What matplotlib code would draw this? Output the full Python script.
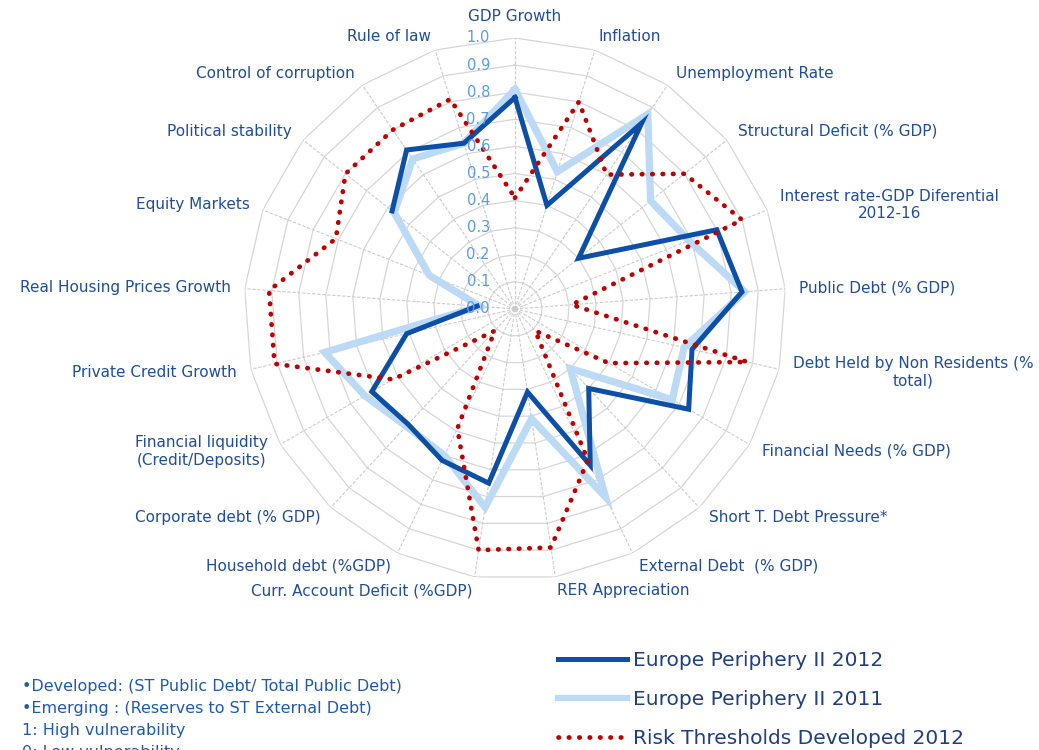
import numpy as np
import matplotlib
matplotlib.use('Agg')
import matplotlib.pyplot as plt
from matplotlib.lines import Line2D
from matplotlib.transforms import offset_copy

# vulnerability indicators, clockwise from the top
categories = ['GDP Growth', 'Inflation', 'Unemployment Rate',
              'Structural Deficit (% GDP)',
              'Interest rate-GDP Diferential\n2012-16',
              'Public Debt (% GDP)',
              'Debt Held by Non Residents (%\ntotal)',
              'Financial Needs (% GDP)', 'Short T. Debt Pressure*',
              'External Debt  (% GDP)', 'RER Appreciation',
              'Curr. Account Deficit (%GDP)', 'Household debt (%GDP)',
              'Corporate debt (% GDP)',
              'Financial liquidity\n(Credit/Deposits)',
              'Private Credit Growth', 'Real Housing Prices Growth',
              'Equity Markets', 'Political stability',
              'Control of corruption', 'Rule of law']

periphery_2012 = [0.78, 0.40, 0.83, 0.30, 0.80, 0.84, 0.67, 0.74, 0.40, 0.64,
                  0.31, 0.65, 0.62, 0.58, 0.61, 0.41, 0.14, np.nan, 0.58,
                  0.71, 0.64]
periphery_2011 = [0.81, 0.53, 0.87, 0.64, 0.69, 0.85, 0.64, 0.67, 0.30, 0.77,
                  0.41, 0.74, 0.60, 0.59, 0.64, 0.72, 0.13, 0.34, 0.57,
                  0.67, 0.64]
thresholds_2012 = [0.41, 0.80, 0.60, 0.80, 0.90, 0.21, 0.88, 0.40, 0.11, 0.62,
                   0.89, 0.90, 0.49, 0.11, 0.52, 0.91, 0.91, 0.71, 0.80,
                   0.80, 0.81]

tick_values = [0.0, 0.1, 0.2, 0.3, 0.4, 0.5, 0.6, 0.7, 0.8, 0.9, 1.0]
series_names = ['Europe Periphery II 2012', 'Europe Periphery II 2011',
                'Risk Thresholds Developed 2012']
notes = ['\u2022Developed: (ST Public Debt/ Total Public Debt)',
         '\u2022Emerging : (Reserves to ST External Debt)',
         '1: High vulnerability',
         '0: Low vulnerability']

DARK = '#0D4EA6'
LIGHT = '#BCD9F5'
RED = '#C00000'
LABEL = '#1F4E9A'

n = len(categories)
theta = np.arange(n) * 2 * np.pi / n
closed = np.append(theta, theta[0])


def close(v):
    v = np.asarray(v, dtype=float)
    return np.append(v, v[0])


fig = plt.figure(figsize=(10.39, 7.5), dpi=100)
ax = fig.add_axes([0.2348, 0.2267, 0.5217, 0.7227], projection='polar')
ax.set_theta_zero_location('N')
ax.set_theta_direction(-1)
ax.set_ylim(0, 1)
ax.set_xticks([])
ax.set_yticks([])
ax.grid(False)
ax.spines['polar'].set_visible(False)

# polygon grid like excel radar charts
for r in tick_values[1:]:
    ax.plot(closed, np.full(n + 1, r), color='#D6D6D6', lw=0.9, zorder=1)
for t in theta:
    ax.plot([t, t], [0, 1], color='#CCCCCC', lw=0.8, ls=(0, (3, 1.5)), zorder=1)

ax.plot(closed, close(periphery_2011), color=LIGHT, lw=5.2,
        solid_joinstyle='miter', zorder=3)
ax.plot(closed, close(periphery_2012), color=DARK, lw=3.6,
        solid_joinstyle='miter', zorder=4)
ax.plot(closed, close(thresholds_2012), color=RED, lw=3.4,
        ls=(0, (0.1, 2.1)), dash_capstyle='round', zorder=5)

# category labels just outside the outer ring
label_r = 1 + 14 / 271
for t, name in zip(theta, categories):
    s = np.sin(t)
    va = 'center'
    if abs(s) < 1e-6:
        ha, va = 'center', 'bottom'
    elif s > 0:
        ha = 'left'
    else:
        ha = 'right'
    ax.text(t, label_r, name, ha=ha, va=va, multialignment='center',
            fontsize=11, color=LABEL)

# radial tick labels left of the vertical spoke
tick_tr = offset_copy(ax.transData, fig=fig, x=-25, y=0, units='dots')
for v in tick_values:
    ax.text(0, v, '{:.1f}'.format(v), transform=tick_tr, ha='right',
            va='center', fontsize=10.5, color='#5B9BE8', zorder=6)

handles = [Line2D([], [], color=DARK, lw=3.6),
           Line2D([], [], color=LIGHT, lw=4.5),
           Line2D([], [], color=RED, lw=3.4, ls=(0, (0.1, 2.1)),
                  dash_capstyle='round')]
fig.legend(handles, series_names, loc='upper left',
           bbox_to_anchor=(550 / 1039, 1 - 643 / 750), borderaxespad=0,
           frameon=False, fontsize=14.5, handlelength=3.4,
           handletextpad=0.3, labelspacing=1.0, labelcolor='#1F3F80')

for i, line in enumerate(notes):
    fig.text(22 / 1039, 1 - (686 + 22 * i) / 750, line, ha='left',
             va='center', fontsize=11.5, color='#1E5AAE')

fig.savefig('out.png', dpi=100)
